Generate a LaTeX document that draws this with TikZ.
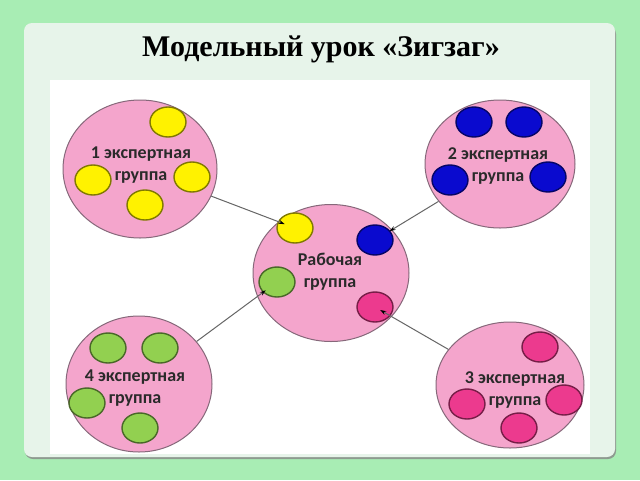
\documentclass[tikz,border=0pt]{standalone}
\usepackage{fontspec}
\setmainfont{Liberation Serif}
\newfontfamily\grpfont{Carlito}
\usetikzlibrary{shapes.geometric,arrows.meta}

\definecolor{bggreen}{HTML}{A8EDB4}
\definecolor{panelgreen}{HTML}{E7F4EA}
\definecolor{shadowgray}{HTML}{8E9A90}
\definecolor{bigpink}{HTML}{F4A5CC}
\definecolor{bigline}{HTML}{86687A}
\definecolor{chipyellow}{HTML}{FFF200}
\definecolor{chipblue}{HTML}{0A0ACF}
\definecolor{chipgreen}{HTML}{92D050}
\definecolor{chippink}{HTML}{EC3A8E}
\definecolor{linegray}{HTML}{666666}
\definecolor{txtgray}{HTML}{2A2A2A}

\begin{document}
\begin{tikzpicture}
  [
   x=1pt,y=-1pt, % 1pt = 1px
   big/.style={ellipse,draw=bigline,fill=bigpink,line width=1pt,inner sep=0pt},
   chip/.style={ellipse,draw=#1!50!black,fill=#1,line width=1.4pt,
                minimum width=36pt,minimum height=30pt,inner sep=0pt},
   grp/.style={font=\grpfont\bfseries\fontsize{18}{22}\selectfont,text=txtgray,align=center},
   link/.style={draw=linegray,line width=1pt,-{Stealth[length=6pt,width=4pt,black]}}
  ]
  % 背景与面板
  \fill[bggreen] (0,0) rectangle (640,480);
  \fill[shadowgray,rounded corners=8pt] (25,26) rectangle (616,459);
  \fill[panelgreen,rounded corners=8pt] (24,23) rectangle (615,457);
  \fill[white] (50,80) rectangle (590,454);

  \node[font=\bfseries\fontsize{30}{32}\selectfont] (title) at (321,49) {Модельный урок «Зигзаг»};

  % 大圆
  \node[big,minimum width=154pt,minimum height=138pt] (g1) at (140,169) {};
  \node[big,minimum width=150pt,minimum height=128pt] (g2) at (500,164) {};
  \node[big,minimum width=148pt,minimum height=126pt] (g3) at (510,385) {};
  \node[big,minimum width=146pt,minimum height=136pt] (g4) at (139,384) {};
  \node[big,minimum width=156pt,minimum height=137pt] (work) at (331,273) {};

  \node[grp] (t1) at (141,165) {1 экспертная\\группа};
  \node[grp] (t2) at (498,166) {2 экспертная\\группа};
  \node[grp] (t3) at (515,390) {3 экспертная\\группа};
  \node[grp] (t4) at (135,388) {4 экспертная\\группа};
  \node[grp] (tw) at (330,272) {Рабочая\\группа};

  % 小圆
  \foreach \p [count=\i] in {(168,122),(93,180),(192,177),(145,205)}
    \node[chip=chipyellow] (a\i) at \p {};
  \foreach \p [count=\i] in {(474,122),(524,122),(450,180),(548,177)}
    \node[chip=chipblue] (b\i) at \p {};
  \foreach \p [count=\i] in {(540,347),(467,404),(564,400),(519,428)}
    \node[chip=chippink] (c\i) at \p {};
  \foreach \p [count=\i] in {(108,348),(160,348),(87,403),(140,428)}
    \node[chip=chipgreen] (d\i) at \p {};

  \node[chip=chipyellow] (wy) at (295,228) {};
  \node[chip=chipblue]   (wb) at (375,240) {};
  \node[chip=chipgreen]  (wg) at (277,282) {};
  \node[chip=chippink]   (wp) at (375,307) {};

  % 连线
  \draw[link,shorten >=11pt] (g1) -- (wy.center);
  \draw[link,shorten >=17pt] (g2) -- (wb.center);
  \draw[link,shorten >=6pt]  (g3) -- (wp.center);
  \draw[link,shorten >=14pt] (g4) -- (wg.center);
\end{tikzpicture}
\end{document}
